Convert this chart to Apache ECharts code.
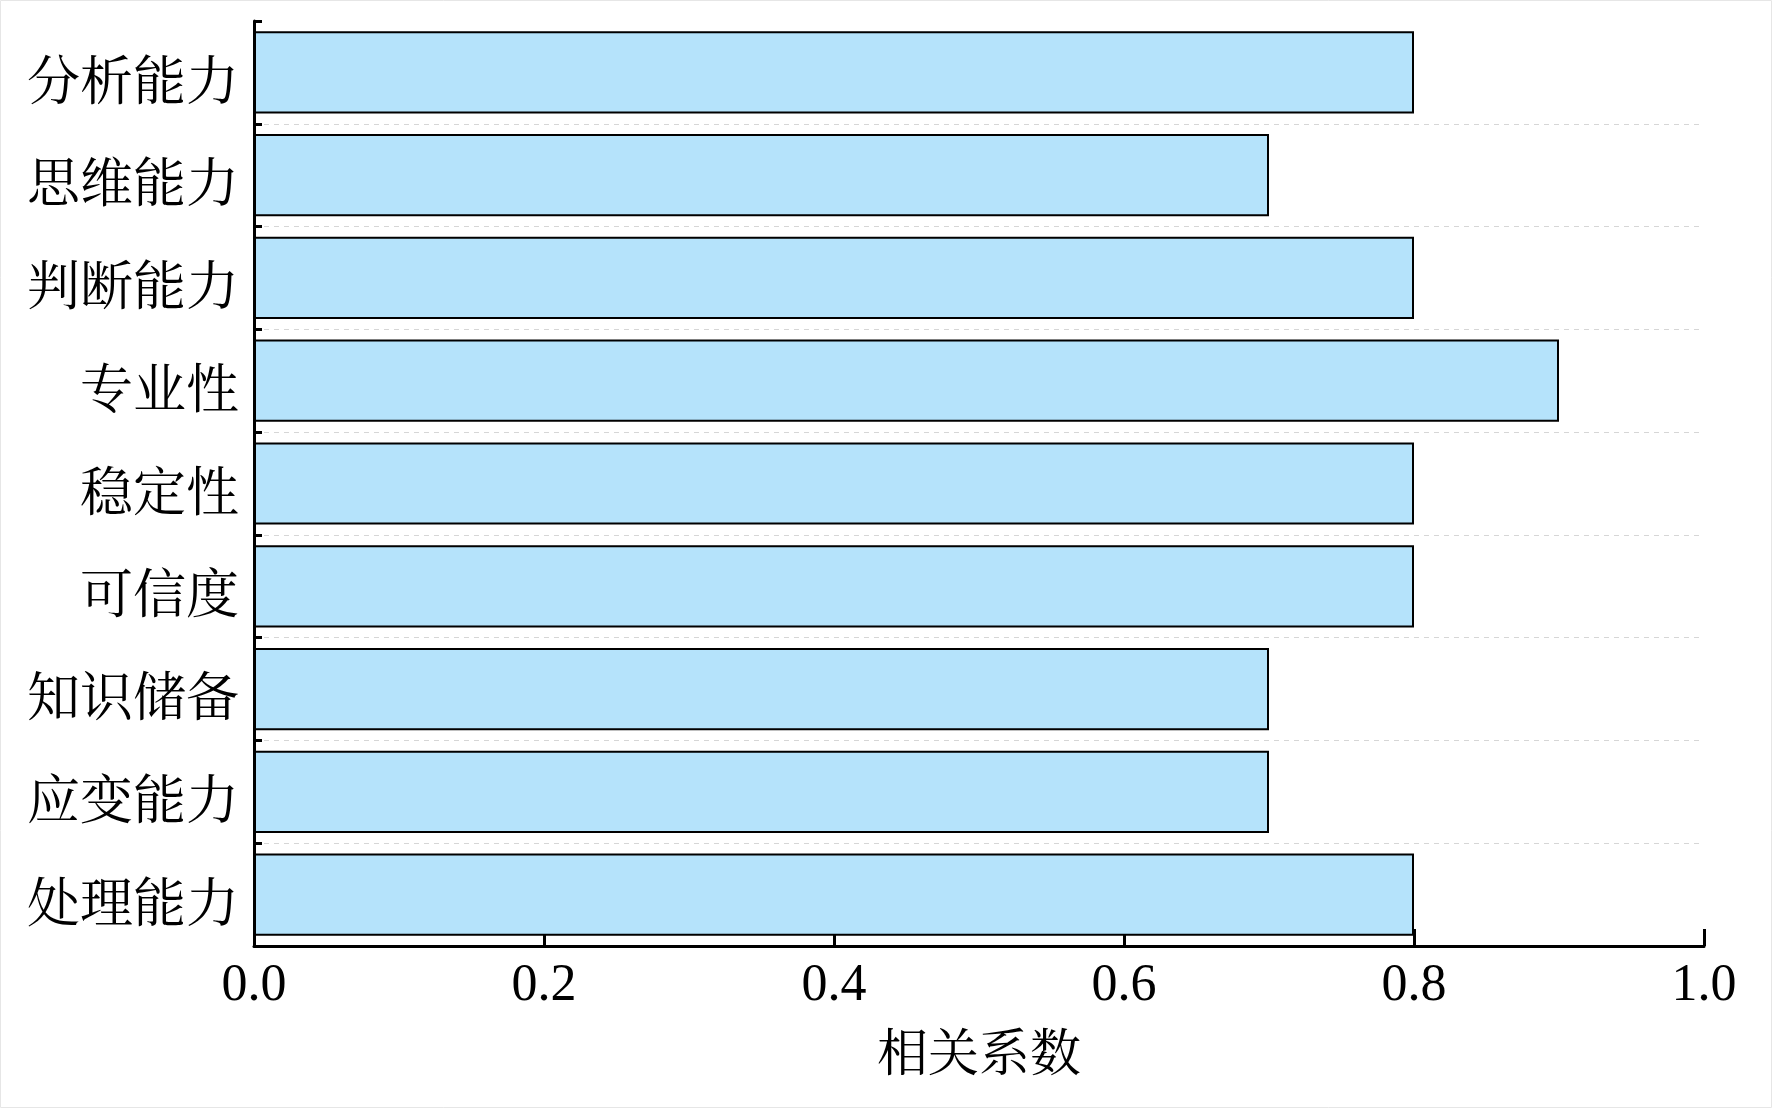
<!DOCTYPE html>
<html>
<head>
<meta charset="utf-8">
<script src="https://cdn.jsdelivr.net/npm/echarts@6/dist/echarts.min.js"></script>
<style>
html,body{margin:0;padding:0;background:#fff;}
#chart{width:1772px;height:1108px;}
</style>
</head>
<body>
<div id="chart"></div>
<script>
const categories = ['分析能力','思维能力','判断能力','专业性','稳定性','可信度','知识储备','应变能力','处理能力'];
const values = [0.8, 0.7, 0.8, 0.9, 0.8, 0.8, 0.7, 0.7, 0.8];
const xTicks = [0.0, 0.2, 0.4, 0.6, 0.8, 1.0];
const xName = '相关系数';

const serif = '"Liberation Serif", "Times New Roman", "Noto Serif CJK SC", "Noto Sans CJK SC", serif';
const cjk = '"Noto Serif CJK SC", "Noto Sans CJK SC", serif';

const chart = echarts.init(document.getElementById('chart'));
chart.setOption({
  backgroundColor: '#ffffff',
  animation: false,
  graphic: [{
    type: 'rect',
    shape: {x: 0.5, y: 0.5, width: 1771, height: 1107},
    style: {fill: 'none', stroke: '#e6e6e6', lineWidth: 1},
    silent: true
  }],
  grid: {left: 254, right: 68, top: 21, bottom: 162, containLabel: false},
  xAxis: {
    type: 'value',
    min: xTicks[0],
    max: xTicks[xTicks.length - 1],
    interval: 0.2,
    name: xName,
    nameLocation: 'middle',
    nameGap: 80,
    nameTextStyle: {fontFamily: cjk, fontSize: 51, color: '#000'},
    axisLine: {show: true, lineStyle: {color: '#000', width: 3}},
    axisTick: {show: true, inside: true, length: 17, lineStyle: {color: '#000', width: 3}},
    axisLabel: {
      fontFamily: serif, fontSize: 52, color: '#000', margin: 14,
      formatter: v => v.toFixed(1)
    },
    splitLine: {show: false}
  },
  yAxis: {
    type: 'category',
    data: categories,
    inverse: true,
    axisLine: {show: true, onZero: false, lineStyle: {color: '#000', width: 3}},
    axisTick: {show: true, inside: true, length: 8, lineStyle: {color: '#000', width: 3}},
    axisLabel: {
      margin: 15,
      formatter: v => '{a|' + v + '}',
      rich: {a: {fontFamily: cjk, fontSize: 53, color: '#000', padding: [14, 0, 0, 0]}}
    },
    splitLine: {
      show: true,
      interval: (idx) => idx !== 0,
      lineStyle: {color: '#d6d6d6', width: 1, type: [5, 5]}
    }
  },
  series: [{
    type: 'bar',
    data: values,
    barCategoryGap: '20%',
    itemStyle: {color: '#b5e3fb', borderColor: '#000', borderWidth: 2},
    z: 3
  }]
});
</script>
</body>
</html>
